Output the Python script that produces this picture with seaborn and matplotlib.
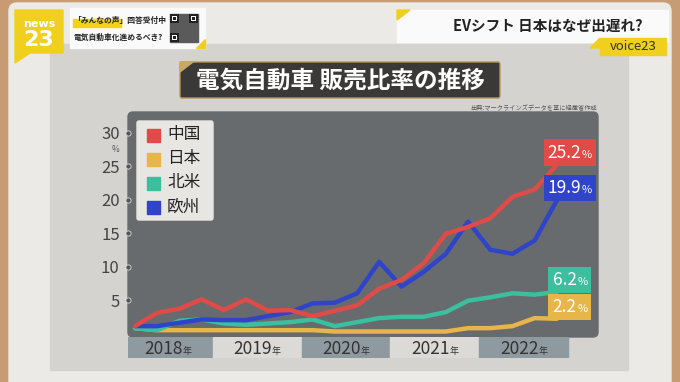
import numpy as np
import pandas as pd
import matplotlib
matplotlib.use("Agg")
import matplotlib.pyplot as plt
import seaborn as sns
from matplotlib.patches import Rectangle, FancyBboxPatch, Polygon
from matplotlib.offsetbox import TextArea, HPacker, AnnotationBbox

# data (quarterly 2018Q1 - 2022Q4, %)
regions = ["中国", "日本", "北米", "欧州"]
colors = ["#e04a47", "#e8b54a", "#3cbf9f", "#2f44c9"]
years = ["2018", "2019", "2020", "2021", "2022"]
quarters = list(range(20))

china = [1.1, 3.1, 3.7, 5.1, 3.5, 5.1, 3.4, 3.5, 2.6, 3.4,
         4.2, 6.7, 8.0, 10.5, 14.9, 15.9, 17.2, 20.4, 21.5, 25.2]
japan = [0.8, 0.5, 0.5, 0.5, 0.5, 0.5, 0.5, 0.5, 0.5, 0.3,
         0.3, 0.3, 0.3, 0.3, 0.3, 0.8, 0.8, 1.1, 2.3, 2.2]
north_america = [0.8, 0.5, 1.9, 2.1, 1.5, 1.3, 1.5, 1.7, 2.1, 1.1,
                 1.7, 2.3, 2.5, 2.5, 3.2, 4.9, 5.4, 6.0, 5.8, 6.2]
europe = [1.1, 1.1, 1.6, 2.1, 2.0, 2.0, 2.6, 3.2, 4.5, 4.6,
          6.0, 10.7, 7.0, 9.2, 11.9, 16.7, 12.5, 11.9, 13.9, 19.9]
yticks = [5, 10, 15, 20, 25, 30]

series = dict(zip(regions, [china, japan, north_america, europe]))
palette = dict(zip(regions, colors))
df = pd.DataFrame([(q, r, v) for r in regions for q, v in zip(quarters, series[r])],
                  columns=["quarter", "region", "share"])

sns.set_style("white")
plt.rcParams["font.family"] = ["Noto Sans CJK JP", "DejaVu Sans"]

W, H = 680, 382
fig = plt.figure(figsize=(6.8, 3.82), dpi=100)


def px_rect(x0, y0, x1, y1):
    return [x0 / W, 1 - y1 / H, (x1 - x0) / W, (y1 - y0) / H]


# studio / screen background in pixel coords
bg = fig.add_axes([0, 0, 1, 1])
bg.set_xlim(0, W)
bg.set_ylim(H, 0)
bg.axis("off")
bg.add_patch(Rectangle((0, 0), W, H, color="#c89c73"))
bg.add_patch(FancyBboxPatch((9, 3), 662, 400, boxstyle="round,pad=0,rounding_size=8",
                            color="#ebeae7"))
bg.add_patch(Rectangle((50, 44), 578, 326, color="#d5d3d0"))

# header: logo
bg.add_patch(Polygon([(15, 10), (63, 10), (63, 53), (30, 53), (15, 63)], color="#f0cf1e"))
bg.text(39, 24, "news", fontsize=8, color="white", weight="bold", ha="center", va="center",
        family="DejaVu Sans")
bg.text(39, 40, "23", fontsize=16, color="white", weight="bold", ha="center", va="center",
        family="DejaVu Sans")

# header: poll box
bg.add_patch(Rectangle((70, 8), 135, 40, color="#fafafa"))
bg.add_patch(Rectangle((73, 19), 48, 8, color="#f2d21b"))
bg.text(73, 20, "「みんなの声」回答受付中", fontsize=5.6, weight="bold", color="#222",
        va="center", ha="left")
bg.text(74, 37, "電気自動車化進めるべき?", fontsize=5.6, weight="bold", color="#222",
        va="center", ha="left")
bg.add_patch(Rectangle((170, 14), 28, 28, color="#5a5a5a"))
for qx, qy in [(170, 14), (189, 14), (170, 33)]:
    bg.add_patch(Rectangle((qx, qy), 9, 9, facecolor="#222", edgecolor="none"))
    bg.add_patch(Rectangle((qx + 2, qy + 2), 5, 5, facecolor="white", edgecolor="none"))
    bg.add_patch(Rectangle((qx + 3, qy + 3), 3, 3, facecolor="#222", edgecolor="none"))
bg.add_patch(Polygon([(205, 39), (205, 48), (196, 48)], color="#f0cf1e"))

# header: topic box
bg.add_patch(Rectangle((397, 10), 271, 32, color="#fafafa"))
bg.add_patch(Polygon([(397, 10), (410, 10), (397, 20)], color="#f0cf1e"))
bg.text(548, 26, "EVシフト 日本はなぜ出遅れ?", fontsize=10.5, weight="bold", color="#222",
        ha="center", va="center")
bg.add_patch(Rectangle((600, 38), 66, 17, color="#f0cf1e"))
bg.add_patch(Polygon([(590, 48), (600, 38), (600, 48)], color="#f0cf1e"))
bg.text(633, 47, "voice23", fontsize=9.5, color="#333", ha="center", va="center")

# chart title banner
bg.add_patch(FancyBboxPatch((180, 62), 320, 36, boxstyle="round,pad=0,rounding_size=2",
                            facecolor="#3a3937", edgecolor="#b5975a", lw=1))
bg.add_patch(Polygon([(180, 62), (193, 62), (180, 72)], color="#c9a862"))
bg.text(340, 81, "電気自動車 販売比率の推移", fontsize=17, weight="bold", color="white",
        ha="center", va="center")
bg.text(597, 108, "出典:マークラインズデータを基に経産省作成", fontsize=4.5, color="#555",
        ha="right", va="center")

# plot panel
bg.add_patch(FancyBboxPatch((128, 112), 470, 225, boxstyle="round,pad=0,rounding_size=5",
                            color="#686b6d"))

# legend
bg.add_patch(FancyBboxPatch((137, 121), 76, 99, boxstyle="round,pad=0,rounding_size=2",
                            color="#e8e6e3"))
for i, (r, c) in enumerate(zip(regions, colors)):
    yy = 135 + i * 24
    bg.add_patch(Rectangle((147, yy - 6.5), 13, 13, color=c))
    bg.text(167, yy, r, fontsize=12, color="#222", va="center", ha="left")

# main chart
ax = fig.add_axes(px_rect(128, 112, 598, 337))
ax.patch.set_alpha(0)
sns.lineplot(data=df, x="quarter", y="share", hue="region",
             hue_order=["日本", "北米", "欧州", "中国"], palette=palette,
             linewidth=3.2, legend=False, ax=ax)
ax.set_xlim(-0.315, 20.85)
ax.set_ylim(-0.52, 33.06)
ax.set_xlabel("")
ax.set_ylabel("")
ax.set_xticks([])
ax.set_yticks(yticks)
ax.set_yticklabels([str(t) for t in yticks])
ax.tick_params(axis="y", length=0, pad=6, labelsize=12, labelcolor="#444")
for s in ax.spines.values():
    s.set_visible(False)
ax.scatter(np.zeros(len(yticks)), yticks, s=14, color="#555", edgecolor="#ddd",
           linewidth=0.6, transform=ax.get_yaxis_transform(), clip_on=False, zorder=5)
bg.text(116, 149.5, "%", fontsize=6, color="#555", ha="center", va="center")

# end labels
for r, c in zip(regions, colors):
    v = series[r][-1]
    box = HPacker(children=[TextArea(f"{v:.1f}", textprops=dict(color="white", fontsize=12.5)),
                            TextArea("%", textprops=dict(color="white", fontsize=8))],
                  align="baseline", pad=0, sep=0.5)
    ab = AnnotationBbox(box, (quarters[-1], v), xybox=(13, 12), boxcoords="offset pixels",
                        frameon=True, pad=0.15,
                        bboxprops=dict(facecolor=c, edgecolor="none", boxstyle="square"))
    ax.add_artist(ab)

# year bands
yr = fig.add_axes(px_rect(128, 337, 598, 358))
yr.set_xlim(ax.get_xlim())
yr.set_ylim(0, 1)
yr.axis("off")
for k, y in enumerate(years):
    left = -0.36 if k == 0 else 4 * k - 0.5
    yr.axvspan(left, 4 * k + 3.5, color="#8e9aa0" if k % 2 == 0 else "#dcdad7")
    lab = HPacker(children=[TextArea(y, textprops=dict(color="#333", fontsize=12.5)),
                            TextArea("年", textprops=dict(color="#333", fontsize=6.5))],
                  align="baseline", pad=0, sep=0)
    yr.add_artist(AnnotationBbox(lab, (4 * k + 1.5, 0.45), frameon=False, pad=0,
                                 box_alignment=(0.5, 0.5)))

fig.savefig("out.png", dpi=100)
